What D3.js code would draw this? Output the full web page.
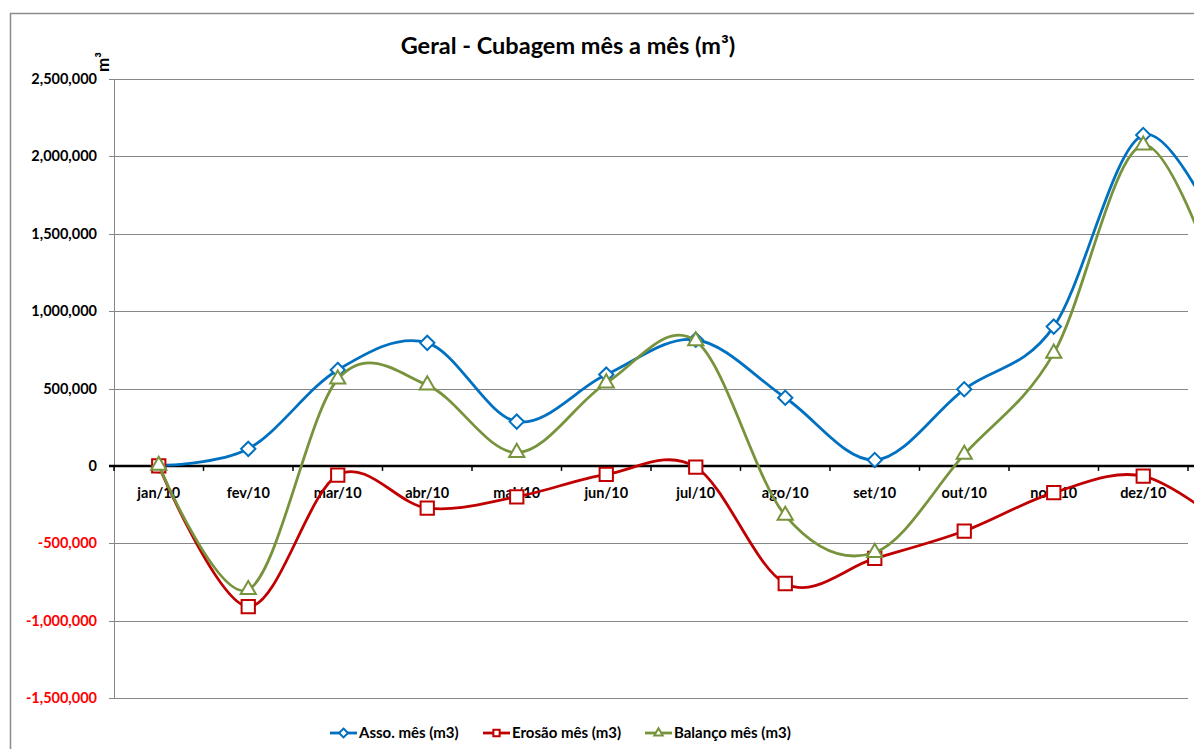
<!DOCTYPE html>
<html>
<head>
<meta charset="utf-8">
<script src="https://cdn.jsdelivr.net/npm/d3@7"></script>
<style>
body { margin: 0; background: #fff; }
text { font-family: Lato, "Open Sans", sans-serif; }
</style>
</head>
<body>
<script>
// meses (o 13o ponto fica fora do recorte, a direita)
const meses = ["jan/10", "fev/10", "mar/10", "abr/10", "mai/10", "jun/10",
               "jul/10", "ago/10", "set/10", "out/10", "nov/10", "dez/10", "jan/11"]
const asso    = [3000, 110000, 620000, 795000, 286000, 590000, 815000, 440000, 38000, 495000, 900000, 2138000, 1330000]
const erosao  = [0, -910000, -60000, -273000, -200000, -55000, -8000, -760000, -598000, -421000, -173000, -66000, -420000]
const balanco = [3000, -800000, 560000, 522000, 86000, 535000, 807000, -320000, -560000, 74000, 727000, 2072000, 910000]
const yTicks  = [-1500000, -1000000, -500000, 0, 500000, 1000000, 1500000, 2000000, 2500000]

const series = [
    {nome: "Asso. mês (m3)",    valores: asso,    cor: "#0070C0", marker: "diamond"},
    {nome: "Erosão mês (m3)",   valores: erosao,  cor: "#C00000", marker: "square"},
    {nome: "Balanço mês (m3)",  valores: balanco, cor: "#77933C", marker: "triangle"},
]

const W = 1194, H = 749
const plotLeft = 114, plotTop = 79, plotBottom = 698
const passo = 89.5

const svg = d3.select("body").append("svg")
    .attr("width", W).attr("height", H)

// moldura do grafico
svg.append("rect")
    .attr("x", 10.5).attr("y", 13.5)
    .attr("width", W + 20).attr("height", H + 20)
    .attr("fill", "none").attr("stroke", "#8c8c8c").attr("stroke-width", 1.5)

const x = d3.scaleBand().domain(meses).range([plotLeft, plotLeft + passo * meses.length])
const y = d3.scaleLinear().domain([-1500000, 2500000]).range([plotBottom, plotTop])
const cx = d => x(d) + x.bandwidth() / 2
const plotRight = x("dez/10") + x.bandwidth()

const fmt = d3.formatLocale({decimal: ".", thousands: ",", grouping: [3], currency: ["", ""], minus: "-"}).format(",")

// linhas de grade
svg.append("g").selectAll("line")
    .data(yTicks.filter(d => d != 0))
    .join("line")
        .attr("x1", plotLeft - 5)
        .attr("x2", d => d == 2500000 ? W : plotRight)
        .attr("y1", d => Math.round(y(d)) + 0.5)
        .attr("y2", d => Math.round(y(d)) + 0.5)
        .attr("stroke", "#868686")

// eixo vertical
svg.append("line")
    .attr("x1", plotLeft + 0.5).attr("x2", plotLeft + 0.5)
    .attr("y1", plotTop).attr("y2", plotBottom)
    .attr("stroke", "#868686")

// rotulos do eixo y
svg.append("g").selectAll("text")
    .data(yTicks)
    .join("text")
        .attr("x", 97)
        .attr("y", d => y(d))
        .attr("dy", "0.35em")
        .attr("text-anchor", "end")
        .attr("font-size", 14.5)
        .attr("font-weight", "bold")
        .attr("fill", d => d < 0 ? "#ff0000" : "#000")
        .text(fmt)

svg.append("text")
    .attr("transform", "translate(109,62) rotate(-90)")
    .attr("text-anchor", "middle")
    .attr("font-size", 17)
    .attr("font-weight", "bold")
    .text("m³")

// eixo x em zero
const y0 = y(0)
svg.append("line")
    .attr("x1", plotLeft - 5).attr("x2", W)
    .attr("y1", y0).attr("y2", y0)
    .attr("stroke", "#000").attr("stroke-width", 2.5)

svg.append("g").selectAll("line")
    .data(d3.range(13))
    .join("line")
        .attr("x1", i => plotLeft + i * passo)
        .attr("x2", i => plotLeft + i * passo)
        .attr("y1", y0).attr("y2", y0 + 5)
        .attr("stroke", "#000").attr("stroke-width", 1.5)

// so os meses de 2010 cabem no recorte
svg.append("g").selectAll("text")
    .data(meses.slice(0, 12))
    .join("text")
        .attr("x", cx)
        .attr("y", y0 + 27)
        .attr("dy", "0.35em")
        .attr("text-anchor", "middle")
        .attr("font-size", 14.5)
        .attr("font-weight", "bold")
        .text(d => d)

// series
const line = d3.line().curve(d3.curveCardinal.tension(0))

const symbolTypes = {diamond: d3.symbolDiamond2, square: d3.symbolSquare2, triangle: d3.symbolTriangle2}
const symbolSizes = {diamond: 130, square: 225, triangle: 165}

series.forEach(s => {
    const pts = meses.map((m, i) => [cx(m), y(s.valores[i])])
    const g = svg.append("g")
    g.append("path")
        .attr("d", line(pts))
        .attr("fill", "none")
        .attr("stroke", s.cor)
        .attr("stroke-width", 2.8)
    g.selectAll("path.mk")
        .data(pts)
        .join("path")
            .attr("class", "mk")
            .attr("transform", p => `translate(${p[0]},${p[1]})`)
            .attr("d", d3.symbol(symbolTypes[s.marker], symbolSizes[s.marker]))
            .attr("fill", "#fff")
            .attr("stroke", s.cor)
            .attr("stroke-width", 2)
})

// titulo
svg.append("text")
    .attr("x", 568).attr("y", 54)
    .attr("text-anchor", "middle")
    .attr("font-size", 23.5)
    .attr("font-weight", "bold")
    .text("Geral - Cubagem mês a mês (m³)")

// legenda
const legX = [330, 483, 645]
const leg = svg.append("g").selectAll("g")
    .data(series)
    .join("g")
        .attr("transform", (d, i) => `translate(${legX[i]},733)`)
leg.append("line")
    .attr("x1", 0).attr("x2", 27)
    .attr("stroke", d => d.cor).attr("stroke-width", 2.8)
leg.append("path")
    .attr("transform", "translate(13.5,0)")
    .attr("d", d => d3.symbol(symbolTypes[d.marker], 50)())
    .attr("fill", "#fff")
    .attr("stroke", d => d.cor)
    .attr("stroke-width", 2)
leg.append("text")
    .attr("x", 29)
    .attr("dy", "0.35em")
    .attr("font-size", 15)
    .attr("font-weight", "bold")
    .text(d => d.nome)
</script>
</body>
</html>
